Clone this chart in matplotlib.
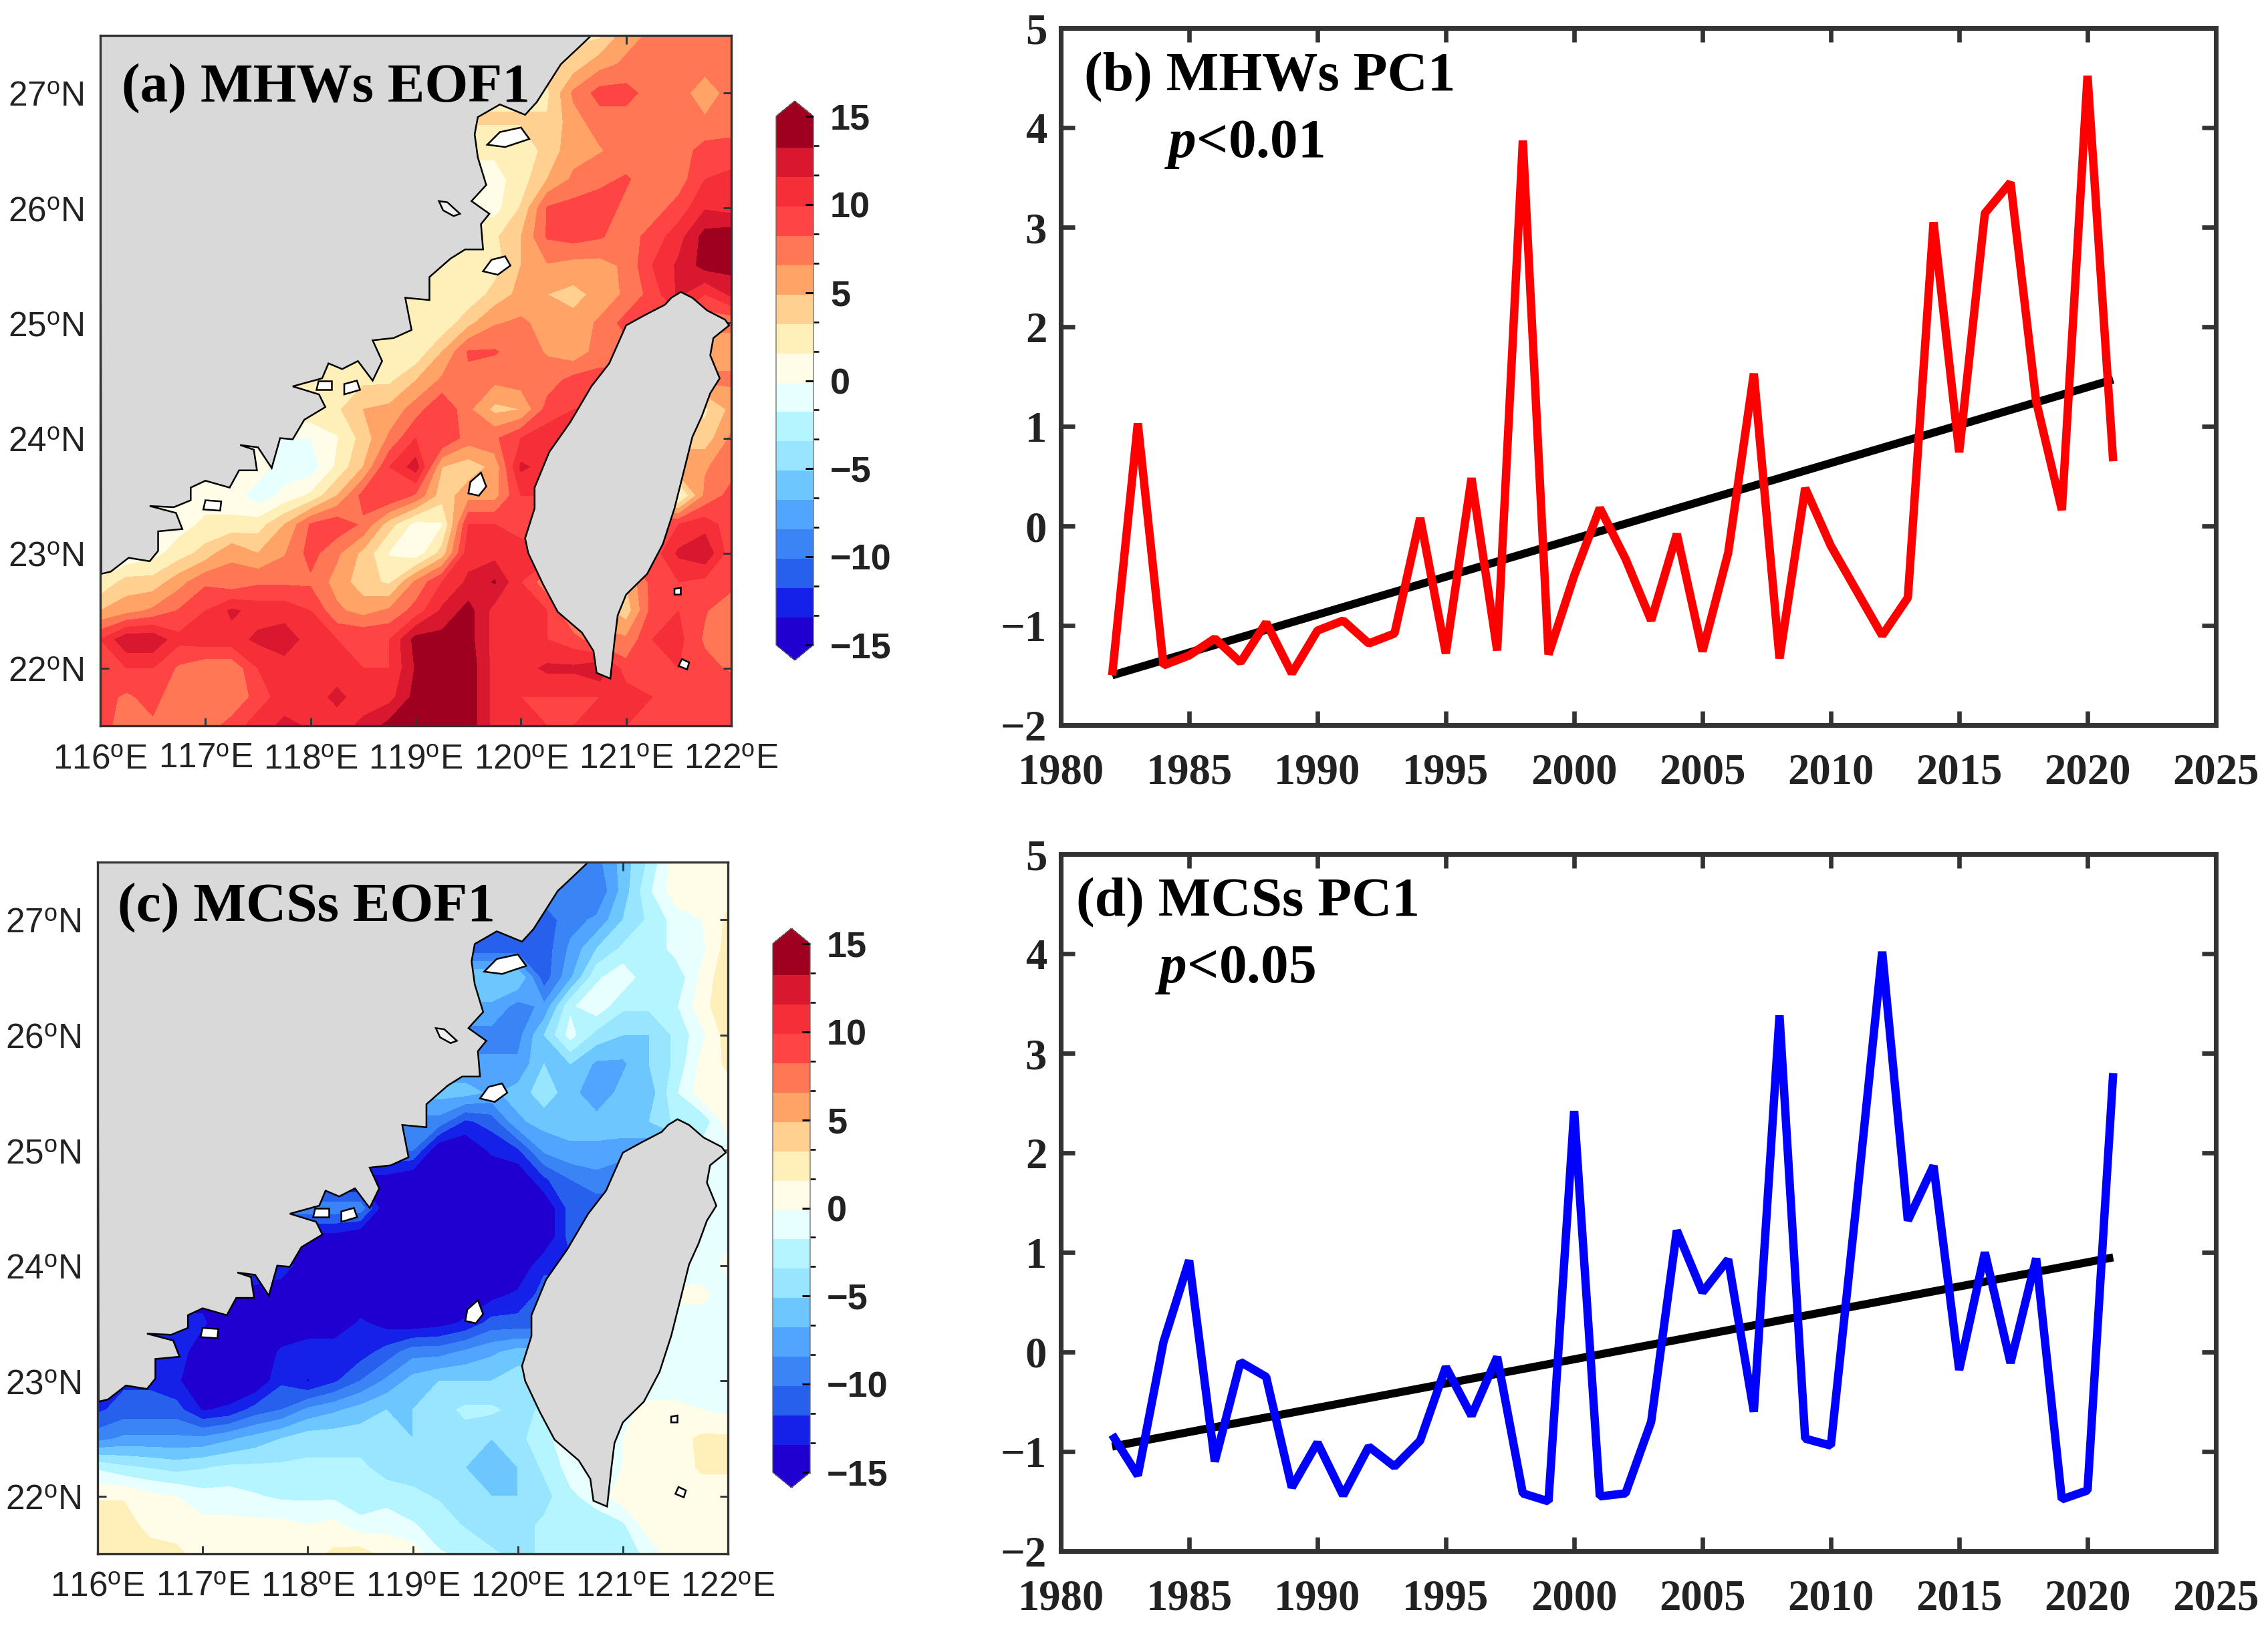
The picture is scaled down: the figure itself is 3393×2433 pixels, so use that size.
import numpy as np
import matplotlib
matplotlib.use('Agg')
import matplotlib.pyplot as plt
from matplotlib.colors import ListedColormap, BoundaryNorm
from matplotlib.patches import Polygon

plt.rcParams['font.family'] = ['Liberation Sans', 'DejaVu Sans']
plt.rcParams['mathtext.fontset'] = 'custom'
plt.rcParams['mathtext.rm'] = 'Liberation Sans'
plt.rcParams['mathtext.it'] = 'Liberation Serif:italic:bold'
plt.rcParams['mathtext.bf'] = 'Liberation Serif:bold'

W, H = 3393, 2433
n = np.nan

years = list(range(1982, 2022))
pc_mhw = [-1.5, 1.03, -1.4, -1.3, -1.13, -1.37, -0.97, -1.48, -1.05, -0.95,
          -1.18, -1.08, 0.08, -1.28, 0.48, -1.25, 3.87, -1.29, -0.5, 0.18,
          -0.33, -0.95, -0.08, -1.26, -0.27, 1.53, -1.33, 0.38, -0.2, -0.65,
          -1.1, -0.72, 3.05, 0.74, 3.14, 3.45, 1.25, 0.16, 4.52, 0.65]
pc_mcs = [-0.83, -1.24, 0.1, 0.92, -1.1, -0.1, -0.25, -1.36, -0.91, -1.44,
          -0.95, -1.15, -0.89, -0.15, -0.64, -0.05, -1.42, -1.5, 2.42, -1.45,
          -1.42, -0.7, 1.22, 0.6, 0.93, -0.6, 3.38, -0.87, -0.94, 1.5,
          4.02, 1.32, 1.87, -0.18, 1.0, -0.11, 0.94, -1.48, -1.39, 2.8]
trend_years = [1982, 2021]
trend_mhw = [-1.5, 1.47]
trend_mcs = [-0.95, 0.95]

lons = np.arange(116, 122.01, 0.25)
lats = np.arange(27.5, 21.49, -0.25)

# EOF1 on a 0.25 degree grid, n = land
eof_mhw = np.array([
    [n,n,n,n,n,n,n,n,n,n,n,n,n,n,n,n,n,n,n,3,6,7,7.5,7.5,7.5],
    [n,n,n,n,n,n,n,n,n,n,n,n,n,n,n,n,n,n,4,6,7,7.5,7.5,7.5,7.5],
    [n,n,n,n,n,n,n,n,n,n,n,n,n,n,n,n,n,3,7,9,9,7.5,7.5,5.5,7.5],
    [n,n,n,n,n,n,n,n,n,n,n,n,n,n,n,n,n,3.5,6,7.5,7.5,7.5,7.5,7,7.5],
    [n,n,n,n,n,n,n,n,n,n,n,n,n,n,n,n,2,4,6,6.5,7.5,7.5,7.5,9,9],
    [n,n,n,n,n,n,n,n,n,n,n,n,n,n,n,1,2.5,5,7,8,8.5,7.5,7.5,10,10.5],
    [n,n,n,n,n,n,n,n,n,n,n,n,n,n,n,1,3.5,8.5,9,9,8,7.5,9,11.5,11],
    [n,n,n,n,n,n,n,n,n,n,n,n,n,n,n,3,5,8.5,9,8.5,7.5,9,11,14,14.5],
    [n,n,n,n,n,n,n,n,n,n,n,n,n,n,n,2.5,5,6.5,6,6,7,10,12,14,14],
    [n,n,n,n,n,n,n,n,n,n,n,n,n,n,2,4,5.5,5,4.5,5.5,7,9,12,10,12],
    [n,n,n,n,n,n,n,n,n,n,n,n,n,2,4.5,6.5,7,6,5.5,7,9,n,n,n,7],
    [n,n,n,n,n,n,n,n,n,n,n,n,2,5,8.5,8.5,7.5,6.5,5.5,7.5,n,n,n,n,6],
    [n,n,n,n,n,n,n,n,n,n,n,3,5,7,8,7,7.5,7.5,9,n,n,n,n,n,7],
    [n,n,n,n,n,n,n,n,n,3,5,5.5,7.5,10,7,4.5,5,9,10,n,n,n,n,3,5.5],
    [n,n,n,n,n,n,n,n,0,1.5,4,7,10,10,7.5,8,10,11,n,n,n,n,n,4,7],
    [n,n,n,n,n,n,1,-1,-1,2,5,10,12.5,5,4,5.5,12,11,n,n,n,n,n,6.5,7.5],
    [n,n,n,n,1,1,-1,0.5,2,5,9,10,8,4,6,6,10,n,n,n,n,n,1,7,9],
    [n,n,n,1,2,2,2.5,5,8.5,9.5,8,4,1,1.5,10,10,9,n,n,n,n,n,10,11,9],
    [n,0,1,2.5,4,6.5,5,6.5,9,7,4.5,1.5,0.5,4,11,11,11,n,n,n,n,9,12,13,9],
    [2,4,4,6,8,7,8,8,8,6,4,3,7,10,12,13.5,10,7,n,n,5,9,10,9.5,9],
    [5,6,7,8.5,10,12,11,11,10,7,6,7,9,12,14,11,11,10,6,n,4,9,10,8.5,7],
    [10,13,13,10.5,11,11,12,12.5,11,10,10,10,14,14,14,11,11,10,9,7,7,10,10.5,8,7.5],
    [10,10,10,8,7,7,10,11,10,11,10,10,13.5,14,14.5,11,11,12,12,13,9,10,10,9,8],
    [9,8,9,7,7,7,9,11,11,12,11,11,14,14,14.5,11,10,10,10,10,11,10,10,9.5,10],
    [9,7.5,8,7,7.5,9,11,12,11.5,11,12,14,14.5,14.5,14.5,11,10.5,10,10,10.5,10,10,10,10,10],
])
eof_mcs = np.array([
    [n,n,n,n,n,n,n,n,n,n,n,n,n,n,n,n,n,n,n,-9,-6,-3,1,1,1],
    [n,n,n,n,n,n,n,n,n,n,n,n,n,n,n,n,n,n,-9,-10,-6,-2,1,1,1],
    [n,n,n,n,n,n,n,n,n,n,n,n,n,n,n,n,n,-11,-9,-8,-5,-3,-1,0,2],
    [n,n,n,n,n,n,n,n,n,n,n,n,n,n,n,n,n,-11,-8,-5,-3,-3,-1,-0.5,2.5],
    [n,n,n,n,n,n,n,n,n,n,n,n,n,n,n,n,-5,-11,-7,-2,-0.5,-3,-3,0.5,3],
    [n,n,n,n,n,n,n,n,n,n,n,n,n,n,n,-7,-9,-8,-2,-0.5,-3,-3,-2,1,3],
    [n,n,n,n,n,n,n,n,n,n,n,n,n,n,n,-9,-9,-5,-1,-4,-5,-5,-3,-0.5,2.5],
    [n,n,n,n,n,n,n,n,n,n,n,n,n,n,n,-8,-8,-5,-5,-7,-7,-5,-3,0.5,2],
    [n,n,n,n,n,n,n,n,n,n,n,n,n,n,-6,-7,-6,-4,-6,-8,-6,-6,-2,1,1],
    [n,n,n,n,n,n,n,n,n,n,n,n,n,-9,-12,-11,-7,-6,-6,-6,-5,-5,-3,n,1],
    [n,n,n,n,n,n,n,n,n,n,n,n,-10,-15,-15,-13,-12,-8,-7,-7,-8,n,n,n,-1],
    [n,n,n,n,n,n,n,n,n,n,n,-14,-15,-15,-15,-15,-15,-12,-10,-9,n,n,n,n,-1],
    [n,n,n,n,n,n,n,n,n,n,-9,-15,-15,-15,-15,-15,-15,-15,-11,n,n,n,n,n,-0.5],
    [n,n,n,n,n,n,n,n,n,-14,-15,-15,-15,-15,-15,-15,-15,-15,-11,n,n,n,n,-1,-0.5],
    [n,n,n,n,n,n,n,-12,-15,-15,-15,-15,-15,-15,-15,-15,-15,-12,n,n,n,n,n,-1,0.5],
    [n,n,n,n,n,n,-14,-15,-15,-15,-15,-13.5,-15,-15,-15,-14,-13,-11,n,n,n,n,n,0.5,-1],
    [n,n,n,n,-13,-15,-15,-15,-15,-15,-13,-14,-14.5,-14,-13,-11,-11,n,n,n,n,n,-1,-1,-1],
    [n,n,n,-12,-15,-15,-15,-13,-12,-12,-12.5,-11,-9,-9,-8,-7,-6,n,n,n,n,n,-1,-1,-1],
    [n,-12,-12,-13,-15,-15,-15,-12,-13.5,-12,-10,-8,-6,-5,-5,-5,-4,n,n,n,n,-1,-1,-1,-1],
    [-12,-11,-11,-11,-13.5,-13,-11,-10,-8,-7,-6,-5,-5,-4,-3,-3,-4,-3,n,n,-0.5,0.5,0.5,0,-0.5],
    [-9,-8,-8,-8,-8,-7,-6,-5,-4,-4,-4,-4,-5,-4,-4,-5,-4,-2,-1,n,0,1,1,2,2],
    [-2,-3,-3.5,-4,-3.5,-3,-3,-3,-3,-3,-3,-4,-4,-4,-5,-6,-5,-3,-1,n,0,1,0.5,2,2],
    [1.5,1.5,0.5,0,-1,-1,-1.5,-2,-2,-2,-3,-2.5,-3,-3.5,-4,-5,-5,-4,-2,-1,1,1,0.5,0.5,0.5],
    [2.5,2.5,1,1,0.5,0.5,0.5,0.5,0,0.5,-1,-0.5,-1.5,-2.5,-3.5,-4.5,-4,-3,-3,-2.5,-2,1,1,0.5,0.5],
    [2,2,2.5,2,1,1,1,1,1,2,2.5,1,1,-1.5,-2,-3,-4,-3,-2.5,-3,-3,-1,1,1,1],
])

levels = np.linspace(-15, 15, 19)
band_colors = ['#2000d0', '#1520e8', '#2860ee', '#3b84f5', '#50a5ff', '#6cc7ff',
               '#97e5ff', '#b5f5ff', '#e8ffff', '#fffde8', '#ffefb8', '#ffd090',
               '#ffa366', '#ff7755', '#ff4444', '#f52e37', '#d7182f', '#a00020']

# coastlines, lon/lat
china_lon = [116.0, 116.01, 116.1, 116.27, 116.47, 116.55, 116.55, 116.78, 116.72, 116.47,
             116.7, 116.86, 116.86, 117.0, 117.23, 117.32, 117.49, 117.46, 117.33, 117.5, 117.63,
             117.71, 117.83, 117.94, 118.14, 118.08, 117.83, 118.11, 118.17, 118.3, 118.45,
             118.59, 118.68, 118.59, 118.79, 118.96, 118.9, 119.13, 119.13, 119.33, 119.47,
             119.64, 119.62, 119.7, 119.53, 119.67, 119.59, 119.56, 119.59, 119.8, 120.04,
             120.15, 120.38, 120.52, 120.67, 116.0]
china_lat = [27.5, 22.82, 22.84, 22.96, 22.93, 23.02, 23.19, 23.21, 23.35, 23.41,
             23.4, 23.46, 23.57, 23.63, 23.57, 23.72, 23.72, 23.9, 23.94, 23.92, 23.74,
             24.0, 23.99, 24.16, 24.27, 24.38, 24.45, 24.52, 24.65, 24.6, 24.67,
             24.5, 24.67, 24.85, 24.87, 24.94, 25.22, 25.2, 25.4, 25.56, 25.64,
             25.64, 25.86, 25.95, 26.06, 26.2, 26.44, 26.64, 26.79, 26.9, 26.81,
             26.92, 27.25, 27.37, 27.5, 27.5]
taiwan_lon = [121.52, 121.63, 121.77, 121.94, 121.98, 121.83, 121.8, 121.89, 121.8, 121.72,
              121.63, 121.54, 121.46, 121.35, 121.2, 121.0, 120.92, 120.89, 120.85, 120.72,
              120.69, 120.58, 120.35, 120.21, 120.07, 120.04, 120.13, 120.13, 120.27, 120.47,
              120.67, 120.84, 121.0, 121.18, 121.37, 121.43]
taiwan_lat = [25.27, 25.22, 25.11, 25.03, 24.98, 24.87, 24.72, 24.52, 24.39, 24.19,
              24.01, 23.68, 23.39, 23.08, 22.82, 22.64, 22.46, 22.24, 21.91, 21.96,
              22.15, 22.31, 22.49, 22.73, 23.0, 23.13, 23.39, 23.57, 23.88, 24.14,
              24.45, 24.65, 24.98, 25.07, 25.16, 25.22]
islands = [
    [(119.64, 25.45), (119.78, 25.42), (119.9, 25.5), (119.85, 25.58), (119.72, 25.55)],
    [(119.68, 26.55), (119.85, 26.53), (120.08, 26.6), (120.0, 26.7), (119.8, 26.66)],
    [(119.5, 23.52), (119.6, 23.5), (119.67, 23.58), (119.62, 23.7), (119.52, 23.62)],
    [(116.98, 23.38), (117.14, 23.37), (117.15, 23.45), (117.0, 23.46)],
    [(118.05, 24.42), (118.2, 24.42), (118.2, 24.5), (118.07, 24.5)],
    [(118.32, 24.38), (118.47, 24.42), (118.44, 24.5), (118.32, 24.47)],
    [(121.46, 22.64), (121.52, 22.64), (121.52, 22.7), (121.46, 22.69)],
    [(121.5, 22.02), (121.58, 21.99), (121.6, 22.05), (121.53, 22.08)],
]
river_island = [(119.22, 26.06), (119.3, 26.05), (119.42, 25.95), (119.36, 25.93), (119.26, 25.98)]


def fill_land(field):
    # land cells take the nearest sea value in their row, the land polygon hides them
    out = field.copy()
    for row in out:
        sea = np.where(~np.isnan(row))[0]
        for i in np.where(np.isnan(row))[0]:
            row[i] = row[sea[np.argmin(np.abs(sea - i))]]
    return out


def px_axes(fig, left, top, right, bottom):
    return fig.add_axes([left / W, 1 - bottom / H, (right - left) / W, (bottom - top) / H])


def draw_map(fig, box, cbox, field, title, title_xy):
    ax = px_axes(fig, *box)
    cmap = ListedColormap(band_colors)
    cmap.set_under(band_colors[0])
    cmap.set_over(band_colors[-1])
    norm = BoundaryNorm(levels, cmap.N)
    cf = ax.contourf(lons, lats, fill_land(field), levels=levels, cmap=cmap, norm=norm, extend='both')
    ax.add_patch(Polygon(list(zip(china_lon, china_lat)), fc='#d9d9d9', ec='black', lw=0.6, zorder=3))
    ax.add_patch(Polygon(list(zip(taiwan_lon, taiwan_lat)), fc='#d9d9d9', ec='black', lw=0.6, zorder=3))
    ax.add_patch(Polygon(river_island, fc='#f0f0f0', ec='black', lw=0.6, zorder=4))
    for isl in islands:
        ax.add_patch(Polygon(isl, fc='white', ec='black', lw=0.6, zorder=4))
    ax.set_xlim(116, 122)
    ax.set_ylim(21.5, 27.5)
    ax.set_xticks(range(116, 123))
    ax.set_yticks(range(22, 28))
    ax.set_xticklabels(['%d$^{\\mathrm{o}}$E' % v for v in range(116, 123)])
    ax.set_yticklabels(['%d$^{\\mathrm{o}}$N' % v for v in range(22, 28)])
    ax.tick_params(direction='in', top=True, right=True, length=3, width=0.7, labelsize=12.3,
                   color='#333333', labelcolor='#222222', pad=6)
    for s in ax.spines.values():
        s.set_linewidth(0.8)
        s.set_color('#333333')
        s.set_zorder(6)
    fig.text(title_xy[0] / W, 1 - title_xy[1] / H, title, family='Liberation Serif', weight='bold',
             fontsize=20, color='black', zorder=10)

    cax = px_axes(fig, *cbox)
    cb = fig.colorbar(cf, cax=cax, extend='both', extendfrac=0.029, ticks=[-15, -10, -5, 0, 5, 10, 15])
    cb.ax.set_yticklabels(['\u221215', '\u221210', '\u22125', '0', '5', '10', '15'])
    cb.ax.tick_params(direction='in', length=3, width=0.7, labelsize=13, pad=6, labelcolor='#222222')
    for lab in cb.ax.get_yticklabels():
        lab.set_fontweight('bold')
    cb.outline.set_linewidth(0.3)
    cb.outline.set_edgecolor('#666666')
    cb.solids.set_edgecolor('face')


def draw_pc(fig, box, values, trend, color, title, ptext, title_xy, p_xy):
    ax = px_axes(fig, *box)
    ax.plot(trend_years, trend, color='black', lw=2.9, solid_capstyle='butt', zorder=2)
    ax.plot(years, values, color=color, lw=3.0, solid_joinstyle='bevel', solid_capstyle='butt', zorder=3)
    ax.set_xlim(1980, 2025)
    ax.set_ylim(-2, 5)
    ax.set_xticks(range(1980, 2026, 5))
    ax.set_yticks(range(-2, 6))
    ax.set_yticklabels(['\u22122', '\u22121', '0', '1', '2', '3', '4', '5'])
    ax.tick_params(direction='in', top=True, right=True, length=5, width=1.6, labelsize=15.5,
                   color='#333333', labelcolor='#222222')
    ax.tick_params(axis='x', pad=10)
    ax.tick_params(axis='y', pad=5)
    for lab in ax.get_xticklabels() + ax.get_yticklabels():
        lab.set_fontfamily('Liberation Serif')
        lab.set_fontweight('bold')
    for s in ax.spines.values():
        s.set_linewidth(1.7)
        s.set_color('#333333')
    fig.text(title_xy[0] / W, 1 - title_xy[1] / H, title, family='Liberation Serif', weight='bold',
             fontsize=20, color='black')
    fig.text(p_xy[0] / W, 1 - p_xy[1] / H, ptext, family='Liberation Serif', weight='bold',
             fontsize=20, color='black')


fig = plt.figure(figsize=(W / 300, H / 300), dpi=300)

draw_map(fig, (150, 53, 1094, 1086), (1161, 151, 1217, 988), eof_mhw, '(a) MHWs EOF1', (182, 152))
draw_map(fig, (146, 1290, 1089, 2325), (1156, 1389, 1212, 2226), eof_mcs, '(c) MCSs EOF1', (176, 1378))
draw_pc(fig, (1587, 42, 3315, 1085), pc_mhw, trend_mhw, '#ff0000', '(b) MHWs PC1', '$\\mathit{p}$<0.01',
        (1622, 135), (1742, 235))
draw_pc(fig, (1587, 1278, 3315, 2321), pc_mcs, trend_mcs, '#0000ff', '(d) MCSs PC1', '$\\mathit{p}$<0.05',
        (1610, 1370), (1728, 1470))

fig.savefig('out.png', dpi=300)
